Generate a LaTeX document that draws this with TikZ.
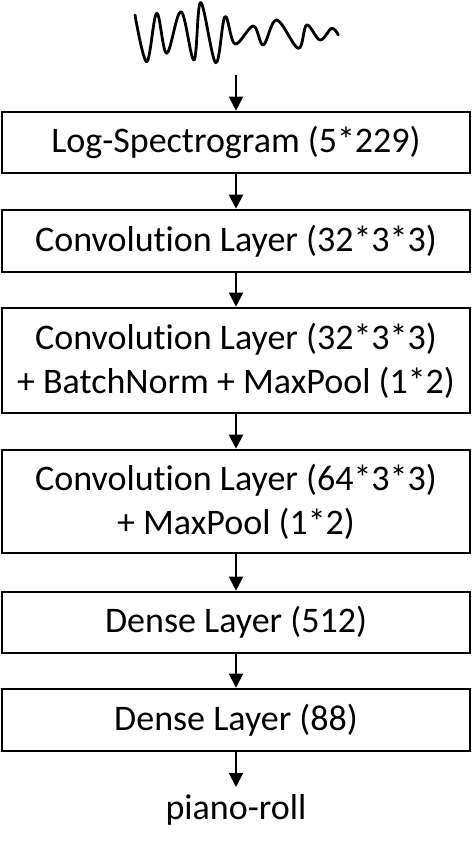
\documentclass[tikz,border=0pt]{standalone}
\usepackage{fontspec}
\setmainfont[Ligatures=NoCommon]{Carlito}
\usetikzlibrary{arrows.meta}
\begin{document}
\begin{tikzpicture}[x=1pt,y=-1pt,
  layerbox/.style={draw, line width=2.6pt, minimum width=468pt, inner sep=0pt, align=center,
    font=\fontsize{36}{44}\selectfont},
  conn/.style={line width=2pt, -{Triangle[width=14pt,length=14pt]}}]
\useasboundingbox (0,0) rectangle (472,841);
\draw[line width=2.8pt, line join=round, line cap=round] plot[smooth, tension=0.6] coordinates {
  (135,15) (146.7,61.7) (156.7,13.3) (166.7,53.3) (181,11.7) (194,60) (200.7,2.5) (215.7,62.7)
  (225,16.7) (235,44) (253.3,26) (263.3,45) (276.7,20) (298.3,48.3) (306.7,25) (320,40) (331.7,28.3) (338.3,35)};
\coordinate (w) at (236,75);
\node[layerbox, minimum height=61pt] (b1) at (236,142.5) {Log-Spectrogram (5*229)};
\node[layerbox, minimum height=62pt] (b2) at (236,241) {Convolution Layer (32*3*3)};
\node[layerbox, minimum height=105pt] (b3) at (236,360.5) {Convolution Layer (32*3*3)\\+ BatchNorm + MaxPool (1*2)};
\node[layerbox, minimum height=103pt] (b4) at (236,501.5) {Convolution Layer (64*3*3)\\+ MaxPool (1*2)};
\node[layerbox, minimum height=61pt] (b5) at (236,622.5) {Dense Layer (512)};
\node[layerbox, minimum height=62pt] (b6) at (236,720) {Dense Layer (88)};
\node[inner sep=0pt, anchor=north, font=\fontsize{36}{44}\selectfont] (pr) at (236,794) {piano-roll};
\draw[conn] (w) -- (b1);
\draw[conn] (b1) -- (b2);
\draw[conn] (b2) -- (b3);
\draw[conn] (b3) -- (b4);
\draw[conn] (b4) -- (b5);
\draw[conn] (b5) -- (b6);
\draw[conn] (b6) -- ([yshift=7pt]pr.north);
\end{tikzpicture}
\end{document}
